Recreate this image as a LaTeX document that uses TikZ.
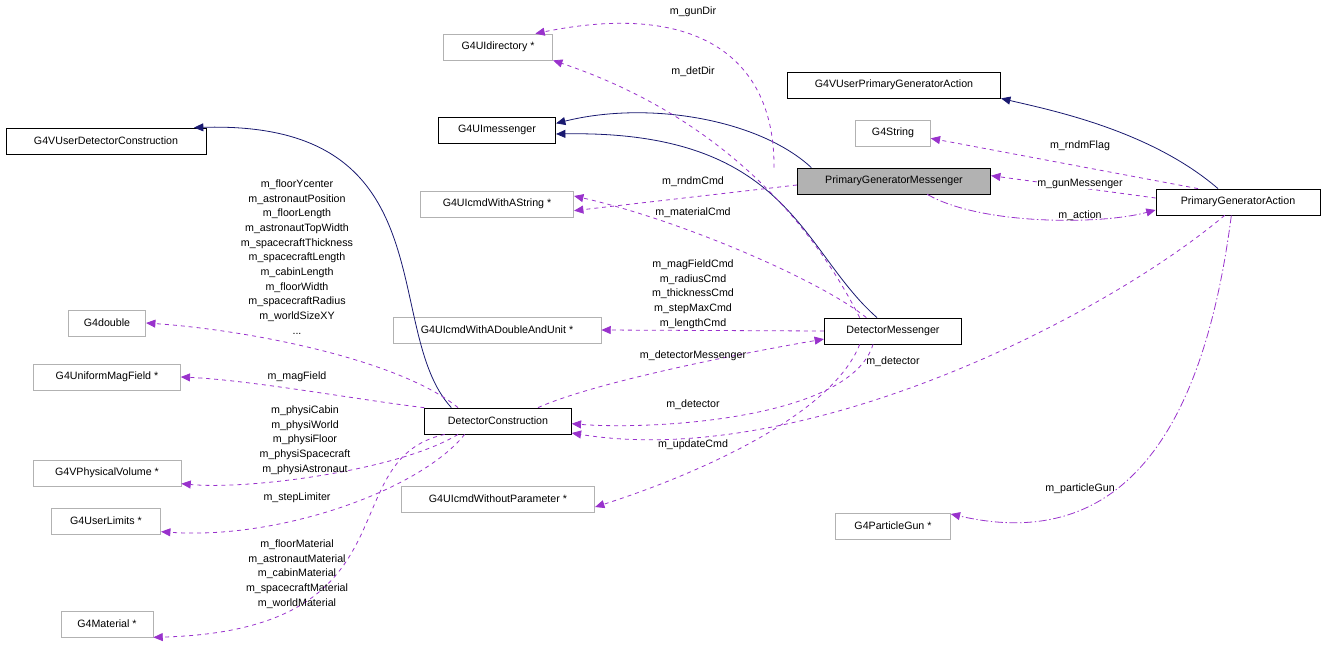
\documentclass[tikz,border=0pt]{standalone}
\usepackage{fontspec}
\setmainfont{Liberation Sans}
\usetikzlibrary{arrows.meta}
\definecolor{pur}{RGB}{153,50,204}
\definecolor{nav}{RGB}{25,25,112}
\tikzset{
 x=0.75pt,y=-0.75pt,
 every node/.style={font=\fontsize{8}{11}\selectfont},
 box/.style={draw=black,fill=white,inner sep=0,minimum height=19.5pt,line width=0.6pt},
 gbox/.style={box,draw=gray!60},
 inh/.style={draw=nav,line width=0.6pt,-{Triangle[width=6pt,length=7pt]}},
 use/.style={draw=pur,dashed,line width=0.6pt,-{Triangle[width=6pt,length=7pt]}},
 lab/.style={align=center,inner sep=0,fill=none}
}
\begin{document}
\begin{tikzpicture}
\useasboundingbox (0,0) rectangle (1325,661);
\node[gbox,minimum width=82pt] (dir) at (498,47) {G4UIdirectory *};
\node[box,minimum width=160pt] (vpga) at (894,85) {G4VUserPrimaryGeneratorAction};
\node[box,minimum width=88pt] (msg) at (497,130) {G4UImessenger};
\node[gbox,minimum width=56pt] (str) at (893,133) {G4String};
\node[box,minimum width=150pt] (vdc) at (106,141) {G4VUserDetectorConstruction};
\node[box,fill=gray!60,minimum width=145pt] (pgm) at (894,181) {PrimaryGeneratorMessenger};
\node[gbox,minimum width=115pt] (astr) at (497,204) {G4UIcmdWithAString *};
\node[box,minimum width=123pt] (pga) at (1238,202) {PrimaryGeneratorAction};
\node[gbox,minimum width=58pt] (dbl) at (107,323) {G4double};
\node[gbox,minimum width=156pt] (dau) at (497,330) {G4UIcmdWithADoubleAndUnit *};
\node[box,minimum width=103pt] (dm) at (893,331) {DetectorMessenger};
\node[gbox,minimum width=110pt] (mag) at (107,377) {G4UniformMagField *};
\node[box,minimum width=110pt] (dc) at (498,421) {DetectorConstruction};
\node[gbox,minimum width=111pt] (pv) at (107,473) {G4VPhysicalVolume *};
\node[gbox,minimum width=145pt] (wop) at (498,499) {G4UIcmdWithoutParameter *};
\node[gbox,minimum width=82pt] (ul) at (106,521) {G4UserLimits *};
\node[gbox,minimum width=86pt] (pg) at (893,526) {G4ParticleGun *};
\node[gbox,minimum width=69pt] (mat) at (107,624) {G4Material *};

% inheritance
\draw[inh] ([xshift=-35pt]dc.north) .. controls (380,330) and (450,120) .. ([xshift=66pt]vdc.north);
\draw[inh] ([xshift=-62pt]pgm.north) .. controls (760,120) and (650,100) .. ([yshift=5pt]msg.east);
\draw[inh] ([xshift=-12pt]dm.north) .. controls (800,250) and (790,130) .. ([yshift=-3pt]msg.east);
\draw[inh] ([xshift=-15pt]pga.north) .. controls (1150,130) and (1050,110) .. (vpga.south east);

% usage
\draw[use] ([xshift=-90pt]pgm.north) .. controls (775,60) and (700,0) .. ([xshift=28pt]dir.north);
\node[lab] at (693,12) {m\_gunDir};
\draw[use] ([xshift=-25pt]dm.north) .. controls (800,200) and (700,110) .. (dir.south east);
\node[lab] at (693,72) {m\_detDir};
\draw[use] ([yshift=-3pt]pgm.west) -- ([yshift=-5pt]astr.east);
\node[lab,fill=white] at (693,182) {m\_rndmCmd};
\draw[use] ([xshift=-20pt]dm.north) .. controls (820,280) and (680,220) .. ([yshift=6pt]astr.east);
\node[lab] at (693,213) {m\_materialCmd};
\draw[use] ([xshift=-30pt]pga.north) -- ([yshift=-4pt]str.east);
\node[lab] at (1080,146) {m\_rndmFlag};
\draw[use] ([yshift=3pt]pga.west) -- ([yshift=4pt]pgm.east);
\node[lab,fill=white] at (1080,184) {m\_gunMessenger};
\draw[use,dash pattern=on 6pt off 2pt on 1pt off 2pt] ([xshift=25pt]pgm.south) .. controls (980,225) and (1100,225) .. ([yshift=-6pt]pga.west);
\node[lab] at (1080,216) {m\_action};
\draw[use] (dm.west) -- (dau.east);
\node[lab] at (693,294) {m\_magFieldCmd\\m\_radiusCmd\\m\_thicknessCmd\\m\_stepMaxCmd\\m\_lengthCmd};
\draw[use] ([xshift=30pt]dc.north) .. controls (600,380) and (760,350) .. ([yshift=4pt]dm.south west);
\node[lab] at (693,356) {m\_detectorMessenger};
\draw[use] ([xshift=-15pt]dm.south) .. controls (850,420) and (650,430) .. ([yshift=-2pt]dc.east);
\node[lab] at (693,405) {m\_detector};
\draw[use] ([xshift=-10pt]pga.south) .. controls (1100,320) and (800,470) .. ([yshift=-9pt]dc.east);
\node[lab] at (893,362) {m\_detector};
\draw[use] ([xshift=-25pt]dm.south) .. controls (830,420) and (680,480) .. ([yshift=-6pt]wop.east);
\node[lab] at (693,445) {m\_updateCmd};
\draw[use,dash pattern=on 6pt off 2pt on 1pt off 2pt] ([xshift=-5pt]pga.south) .. controls (1210,380) and (1150,560) .. ([yshift=9pt]pg.east);
\node[lab] at (1080,489) {m\_particleGun};
\draw[use] ([xshift=-30pt]dc.north) .. controls (400,360) and (250,330) .. (dbl.east);
\node[lab] at (297,257) {m\_floorYcenter\\m\_astronautPosition\\m\_floorLength\\m\_astronautTopWidth\\m\_spacecraftThickness\\m\_spacecraftLength\\m\_cabinLength\\m\_floorWidth\\m\_spacecraftRadius\\m\_worldSizeXY\\...};
\draw[use] ([yshift=10pt]dc.west) .. controls (360,400) and (250,380) .. (mag.east);
\node[lab] at (297,377) {m\_magField};
\draw[use] ([xshift=-30pt]dc.south) .. controls (400,470) and (250,490) .. ([yshift=-8pt]pv.east);
\node[lab] at (305,440) {m\_physiCabin\\m\_physiWorld\\m\_physiFloor\\m\_physiSpacecraft\\m\_physiAstronaut};
\draw[use] ([xshift=-25pt]dc.south) .. controls (420,490) and (280,540) .. ([yshift=-8pt]ul.east);
\node[lab] at (297,498) {m\_stepLimiter};
\draw[use] ([xshift=-40pt]dc.south) .. controls (330,460) and (420,630) .. ([yshift=-10pt]mat.east);
\node[lab] at (297,574) {m\_floorMaterial\\m\_astronautMaterial\\m\_cabinMaterial\\m\_spacecraftMaterial\\m\_worldMaterial};
\end{tikzpicture}
\end{document}
